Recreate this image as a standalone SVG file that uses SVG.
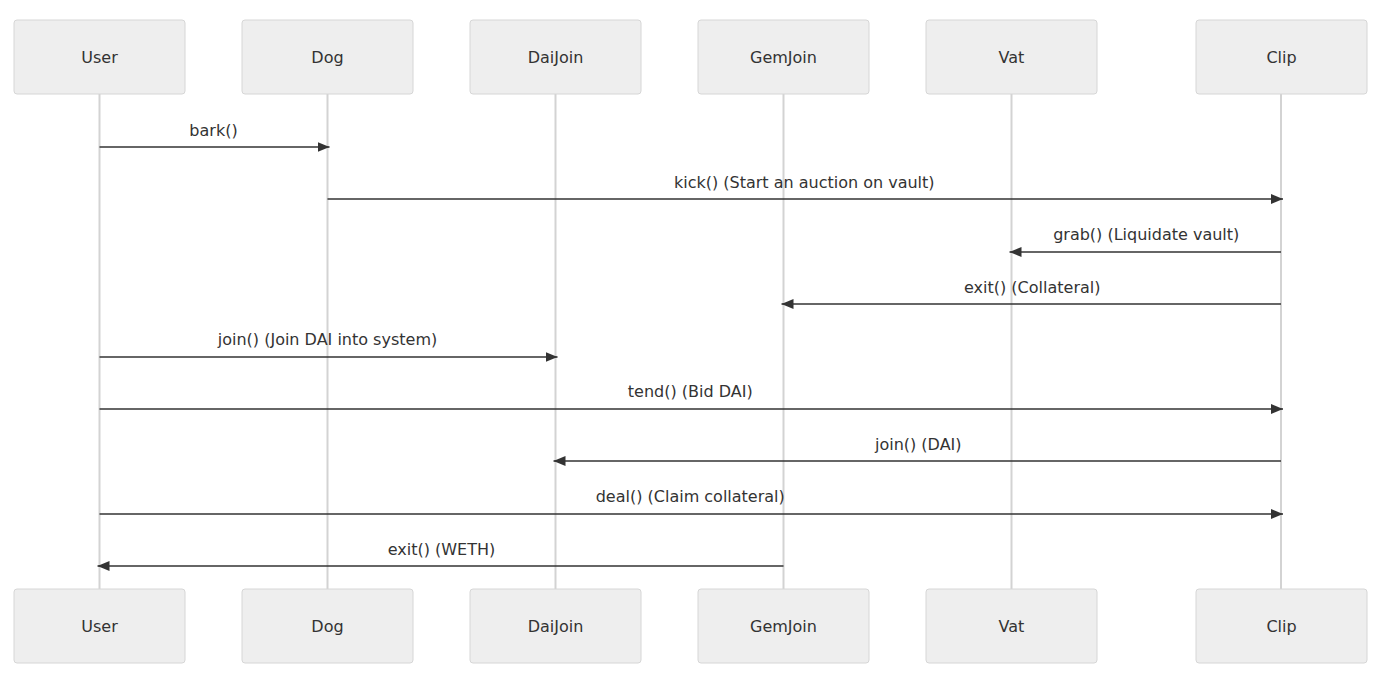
<svg xmlns="http://www.w3.org/2000/svg" width="1377" height="678" viewBox="0 0 1377 678">
<style>
.actor{fill:#eeeeee;stroke:#d6d6d6;stroke-width:1}
.atext{font-family:"DejaVu Sans","Liberation Sans",sans-serif;font-size:16px;fill:#333;text-anchor:middle;dominant-baseline:central}
.life{stroke:#d3d3d3;stroke-width:2}
.msg{stroke:#333;stroke-width:1.5;fill:none;marker-end:url(#arrow)}
.mtext{font-family:"DejaVu Sans","Liberation Sans",sans-serif;font-size:16px;fill:#333;text-anchor:middle}
</style>
<defs>
<marker id="arrow" markerWidth="12" markerHeight="10" refX="12" refY="5" orient="auto" markerUnits="userSpaceOnUse">
<path d="M0,0 L12,5 L0,10 z" fill="#333"/>
</marker>
</defs>
<rect width="1377" height="678" fill="#ffffff"/>
<g id="lifelines">
<line class="life" x1="99.5" y1="94" x2="99.5" y2="589"/>
<line class="life" x1="327.5" y1="94" x2="327.5" y2="589"/>
<line class="life" x1="555.5" y1="94" x2="555.5" y2="589"/>
<line class="life" x1="783.5" y1="94" x2="783.5" y2="589"/>
<line class="life" x1="1011.5" y1="94" x2="1011.5" y2="589"/>
<line class="life" x1="1281" y1="94" x2="1281" y2="589"/>
</g>
<g id="User">
<rect class="actor" x="14" y="20" width="171" height="74" rx="3"/>
<text class="atext" x="99.5" y="57">User</text>
<rect class="actor" x="14" y="589" width="171" height="74" rx="3"/>
<text class="atext" x="99.5" y="626">User</text>
</g>
<g id="Dog">
<rect class="actor" x="242" y="20" width="171" height="74" rx="3"/>
<text class="atext" x="327.5" y="57">Dog</text>
<rect class="actor" x="242" y="589" width="171" height="74" rx="3"/>
<text class="atext" x="327.5" y="626">Dog</text>
</g>
<g id="DaiJoin">
<rect class="actor" x="470" y="20" width="171" height="74" rx="3"/>
<text class="atext" x="555.5" y="57">DaiJoin</text>
<rect class="actor" x="470" y="589" width="171" height="74" rx="3"/>
<text class="atext" x="555.5" y="626">DaiJoin</text>
</g>
<g id="GemJoin">
<rect class="actor" x="698" y="20" width="171" height="74" rx="3"/>
<text class="atext" x="783.5" y="57">GemJoin</text>
<rect class="actor" x="698" y="589" width="171" height="74" rx="3"/>
<text class="atext" x="783.5" y="626">GemJoin</text>
</g>
<g id="Vat">
<rect class="actor" x="926" y="20" width="171" height="74" rx="3"/>
<text class="atext" x="1011.5" y="57">Vat</text>
<rect class="actor" x="926" y="589" width="171" height="74" rx="3"/>
<text class="atext" x="1011.5" y="626">Vat</text>
</g>
<g id="Clip">
<rect class="actor" x="1196" y="20" width="171" height="74" rx="3"/>
<text class="atext" x="1281.5" y="57">Clip</text>
<rect class="actor" x="1196" y="589" width="171" height="74" rx="3"/>
<text class="atext" x="1281.5" y="626">Clip</text>
</g>
<g id="connectors">
<line class="msg" x1="99.5" y1="147" x2="329.5" y2="147"/>
<text class="mtext" x="213.5" y="136">bark()</text>
<line class="msg" x1="327.5" y1="199" x2="1283" y2="199"/>
<text class="mtext" x="804.25" y="188">kick() (Start an auction on vault)</text>
<line class="msg" x1="1281" y1="252" x2="1009.5" y2="252"/>
<text class="mtext" x="1146.25" y="240">grab() (Liquidate vault)</text>
<line class="msg" x1="1281" y1="304" x2="781.5" y2="304"/>
<text class="mtext" x="1032.25" y="293">exit() (Collateral)</text>
<line class="msg" x1="99.5" y1="357" x2="557.5" y2="357"/>
<text class="mtext" x="327.5" y="345">join() (Join DAI into system)</text>
<line class="msg" x1="99.5" y1="409" x2="1283" y2="409"/>
<text class="mtext" x="690.25" y="397">tend() (Bid DAI)</text>
<line class="msg" x1="1281" y1="461" x2="553.5" y2="461"/>
<text class="mtext" x="918.25" y="450">join() (DAI)</text>
<line class="msg" x1="99.5" y1="514" x2="1283" y2="514"/>
<text class="mtext" x="690.25" y="502">deal() (Claim collateral)</text>
<line class="msg" x1="783.5" y1="566" x2="97.5" y2="566"/>
<text class="mtext" x="441.5" y="555">exit() (WETH)</text>
</g>
</svg>
